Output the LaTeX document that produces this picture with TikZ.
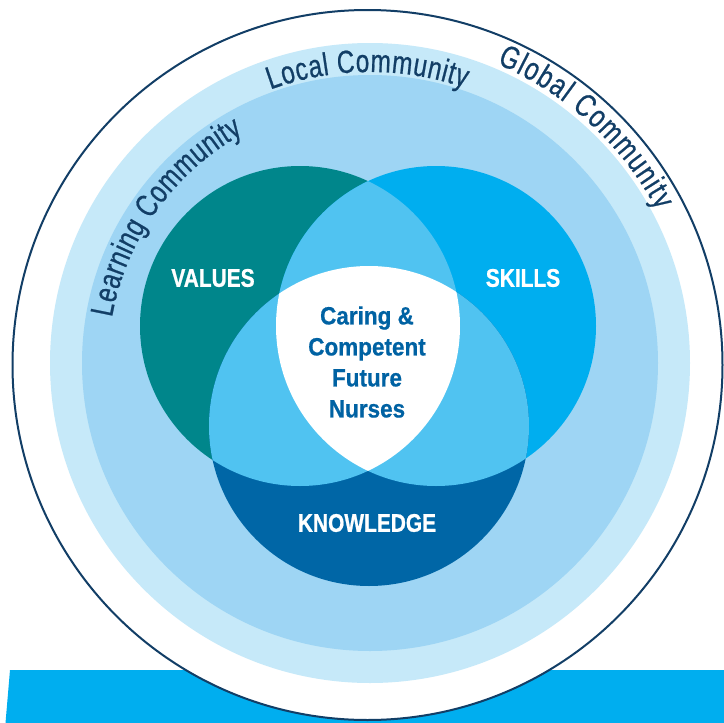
\documentclass[tikz,border=0pt]{standalone}
\usepackage{fontspec}
\usetikzlibrary{decorations.text}
\newfontfamily\arcfont[FakeStretch=0.76,FakeBold=0.6]{Liberation Sans}
\newfontfamily\labelfont[FakeStretch=0.82,FakeBold=0.8]{Liberation Sans}
\newfontfamily\corefont[FakeStretch=0.9,FakeBold=0.6]{Liberation Sans}
\definecolor{navy}{HTML}{123E66}
\definecolor{band}{HTML}{00AEEF}
\definecolor{ringlight}{HTML}{C6E9F9}
\definecolor{ringmid}{HTML}{9ED5F4}
\definecolor{valuescol}{HTML}{00868B}
\definecolor{skillscol}{HTML}{00AEEF}
\definecolor{knowcol}{HTML}{0066A6}
\definecolor{overlapcol}{HTML}{50C3F1}
\definecolor{coreblue}{HTML}{0062A3}
\begin{document}
\begin{tikzpicture}[x=10pt,y=10pt]
\tikzstyle{every node}+=[inner sep=0pt]
\tikzstyle{vennlabel}=[text=white, font=\labelfont\bfseries\fontsize{25.5}{25.5}\selectfont]
\tikzstyle{coretext}=[text=coreblue, align=center, font=\corefont\bfseries\fontsize{25}{31}\selectfont]
\tikzset{curvetext/.style={decorate, decoration={text along path, text align=fit to path, text color=navy, text={|\arcfont\fontsize{32}{32}\selectfont|#1}}}}
\useasboundingbox (0,0) rectangle (72.4,-72.3);
\fill [band] (1.0,-67.0) -- (72.4,-67.0) -- (72.4,-72.3) -- (0.55,-72.3) -- cycle;
\draw [navy, line width=2pt, fill=white] (36.75,-36.5) circle (35.5);
\coordinate (hub) at (37.0,-36.3);
\fill [ringlight] (hub) circle (32.0);
\fill [ringmid] (hub) circle (28.8);
\coordinate (v) at (30.0,-32.6);
\coordinate (s) at (43.6,-32.6);
\coordinate (k) at (36.9,-42.6);
\fill [valuescol] (v) circle (16);
\fill [skillscol] (s) circle (16);
\fill [knowcol] (k) circle (16);
\begin{scope}
\clip (v) circle (16);
\fill [overlapcol] (s) circle (16);
\fill [overlapcol] (k) circle (16);
\end{scope}
\begin{scope}
\clip (s) circle (16);
\fill [overlapcol] (k) circle (16);
\end{scope}
\begin{scope}
\clip (v) circle (16);
\clip (s) circle (16);
\fill [white] (k) circle (16);
\end{scope}
\path [curvetext={Learning Community}] ([shift={(170:26.2)}]hub) arc [start angle=170, end angle=119, radius=26.2];
\path [curvetext={Local Community}] ([shift={(110:29.1)}]hub) arc [start angle=110, end angle=71, radius=29.1];
\path [curvetext={Global Community}] ([shift={(67:32.5)}]hub) arc [start angle=67, end angle=28, radius=32.5];
\node (values) [vennlabel] at (21.3,-27.8) {VALUES};
\node (skills) [vennlabel] at (52.3,-27.8) {SKILLS};
\node (knowledge) [vennlabel] at (36.7,-52.3) {KNOWLEDGE};
\node (core) [coretext] at (36.7,-36.2) {Caring \&\\Competent\\Future\\Nurses};
\end{tikzpicture}
\end{document}
